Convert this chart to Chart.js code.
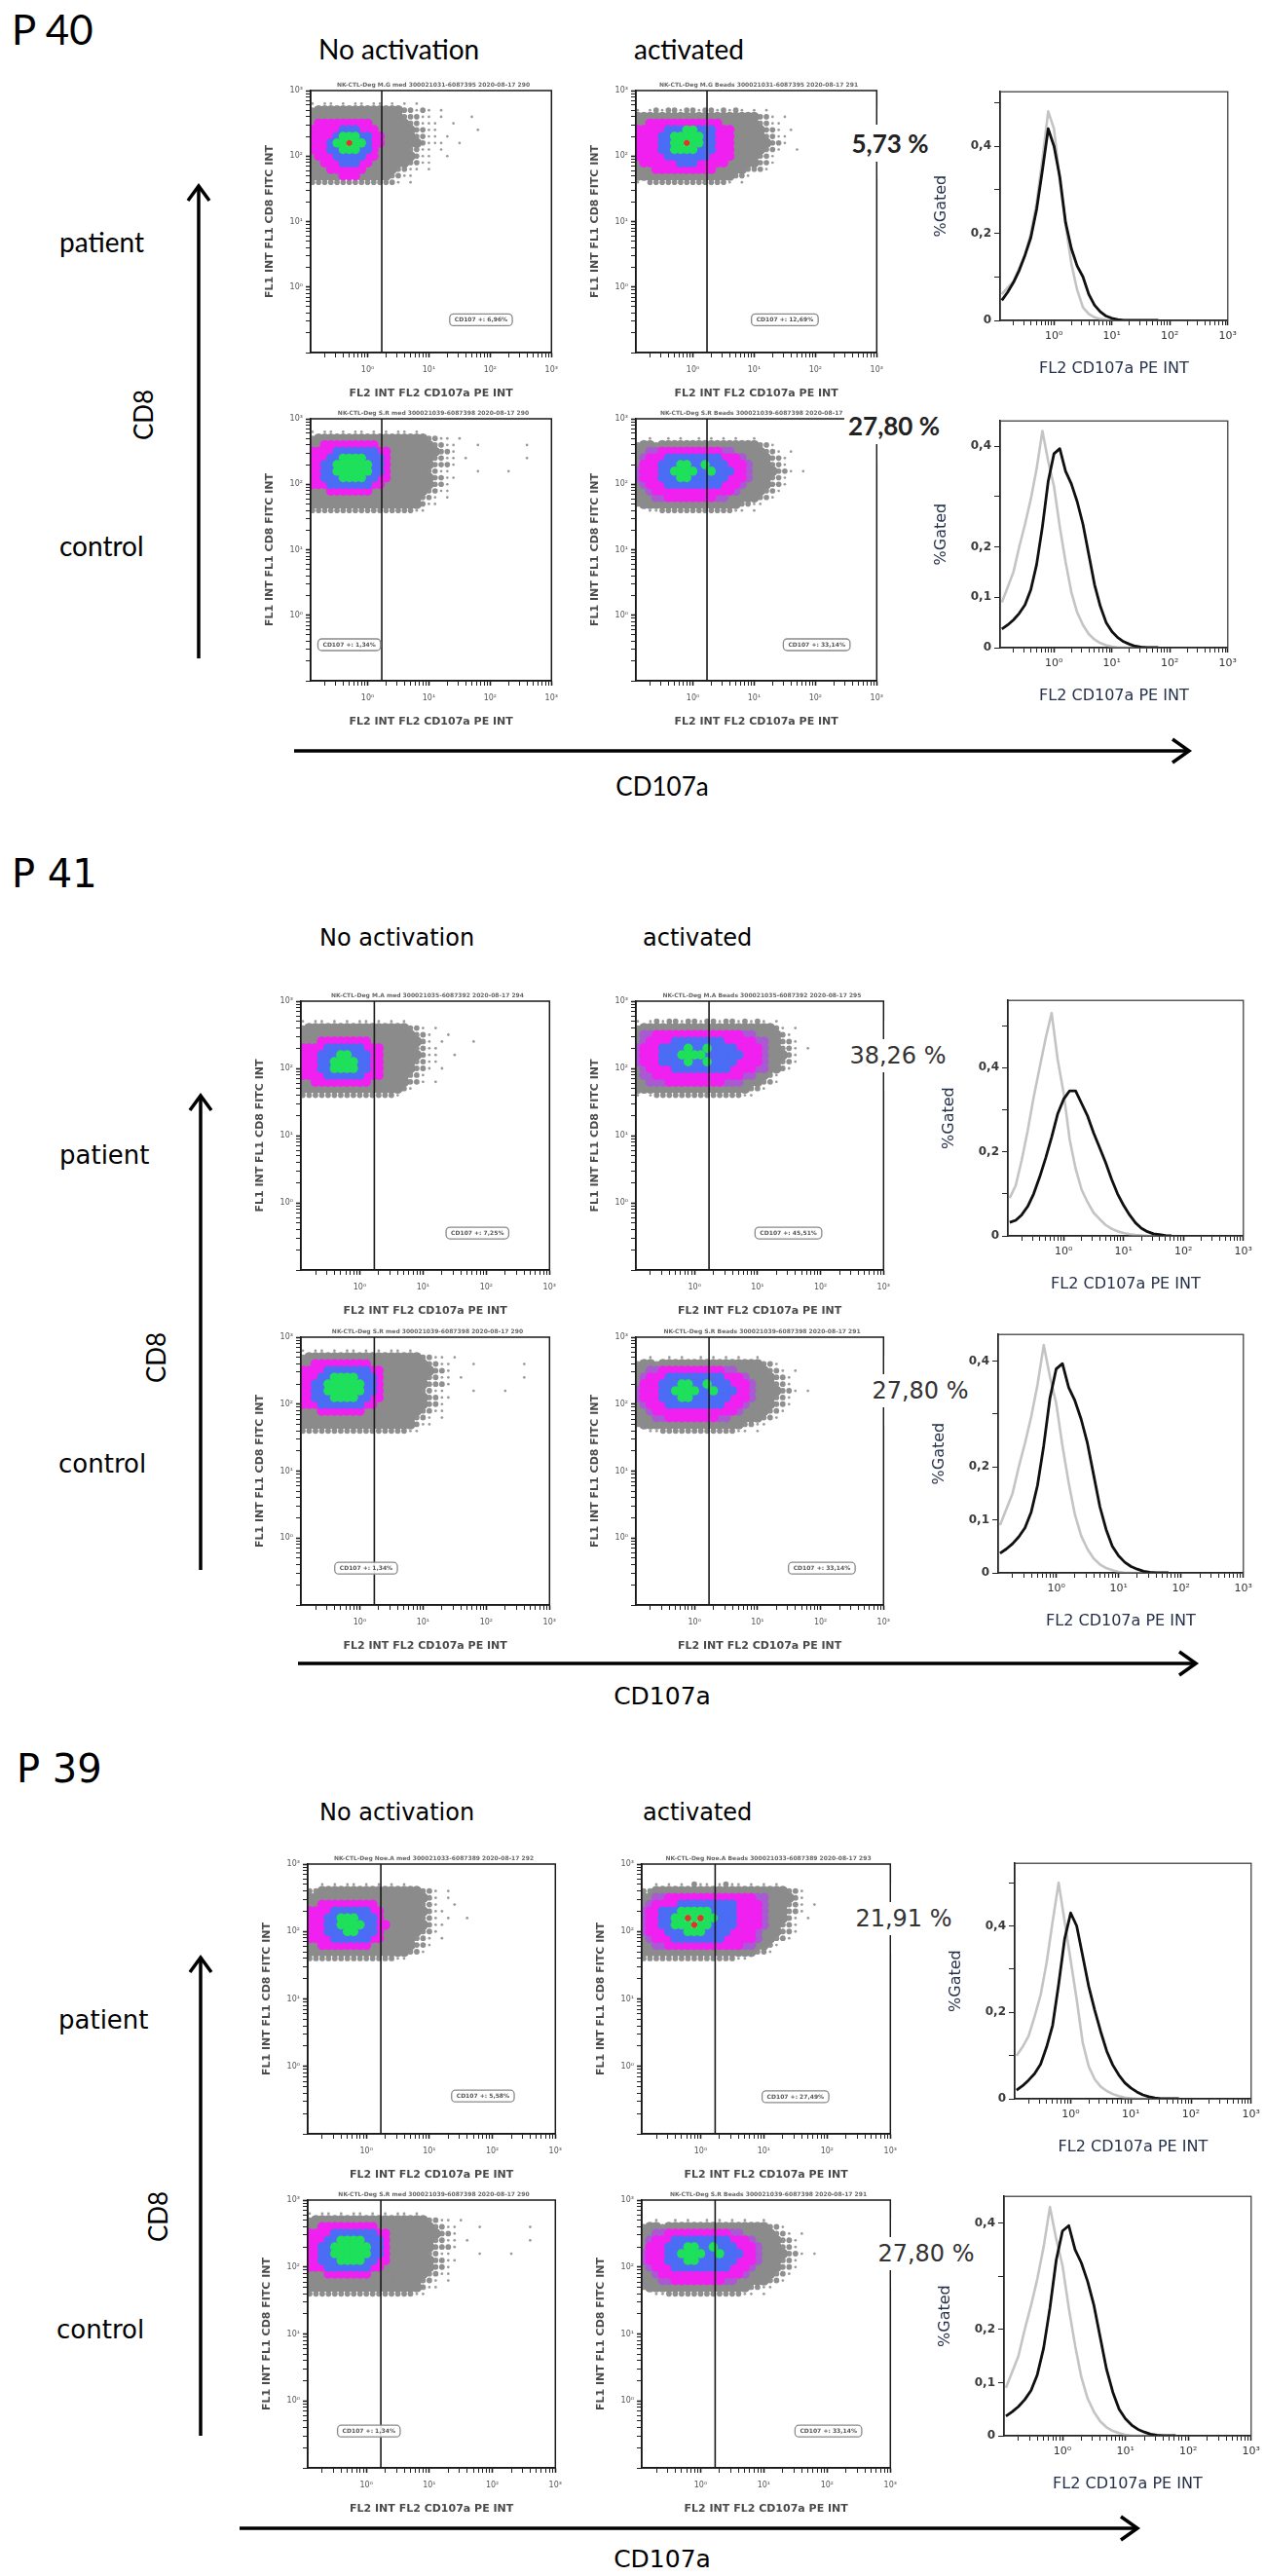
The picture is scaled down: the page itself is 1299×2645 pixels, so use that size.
<!DOCTYPE html>
<html><head><meta charset="utf-8">
<script src="https://cdn.jsdelivr.net/npm/chart.js@4.4.1/dist/chart.umd.min.js"></script>
<style>
html,body{margin:0;padding:0;background:#fff}
body{position:relative;width:1299px;height:2645px;overflow:hidden}
.txt{position:absolute;white-space:nowrap;line-height:1;color:#000}
.pct{position:absolute;white-space:nowrap;line-height:1;background:#fff;transform:translate(-50%,-50%);padding:3px 4px;z-index:6}
.strip{position:absolute;background:#fff;z-index:5}
.tiny{position:absolute;white-space:nowrap;font:bold 6px "DejaVu Sans",sans-serif;color:#666;transform:translateX(-50%);line-height:1}
svg{position:absolute;left:0;top:0;z-index:4}
canvas{position:absolute}
</style></head><body>
<script>
// ---------------- DATA ----------------
// density cells: rows from log10(y)=2.8 down by 0.1, columns from log10(x)=-0.9 up by 0.1
// a=sparse grey, h=medium grey, g=dense grey, p=purple/grey, m=magenta, b=blue, G=green, r=red
const grid_P40_patient_noact = [
"a.aa.a.aa.aa.a.a.a..........",
"hgggggggggggggghhaha.a......",
"ggggggggggggggghhhaa.a....a.",
"gmmmmmmmmmgggggghhaaa..a....",
"mmmmmbbbmmmgggggghhaa......a",
"mmmmbGGGbbmmggggghhaa.a.....",
"mmmbGGrGGbmmgggggghaaa..a...",
"mmmbbGGGbbmggggghhaa.a......",
"gmmmbbbbbmmgggggghaa..a.....",
"ggmmmbbbmmgggggghhaa........",
"gggmmmmmmggggghhaa.a........",
"gggggmmmggggghhaa...........",
"hhhhhhhhhhhhhha.a..........."
];
const grid_P40_patient_act = [
"............................",
"a.ahahhahhahhahaha.a.a......",
"gggggggggggggggggggghha.a...",
"ggmmmmmmmmmmmmgggggghhaa....",
"mmmmmbbbGGbbbmmmggggghha.a..",
"mmmmbbGGGGGbbmmmggggghhaa...",
"mmmmbbGGrGGbbmmmgggggghha...",
"mmmmbbGGGGbbbmmmggggghha..a.",
"mmmmmbbbbbbbmmmmgggghha.....",
"gmmmmmmbbbmmmmmggggghha.....",
"gggmmmmmmmmmmggggghhha......",
"gggggggggggggggghha.........",
"a.hhhhhhhhhhhhha.a.........."
];
const grid_P41_patient_noact = [
"............................",
"a.aa.a.a.aa.a.a.a...........",
"hgggggggggggggggghha.a......",
"gggggggggggggggggghha..a....",
"gggmmmmmmmmggggggggha.a....a",
"mmmmbbbbbbmmmggggghhaa......",
"mmmbbbGGbbbmmgggggghaa..a...",
"mmmbbGGGGbbmmggggghhaa......",
"mmmbbGGGGbbmmggggghha.a.....",
"mmmmbbbbbbmmmgggghha........",
"ggmmmmmmmmmgggggghha.a......",
"ggggggggggggggggha..........",
"hhhhhhhhhhhhhhha............"
];
const grid_P41_patient_act = [
"............................",
"a.ahahhahhahhahhahaha.a.....",
"hgggggggggggggggggggggha.a..",
"gppmmmmmmmmmmmmmmppggggha...",
"gpmmmmbbbbbbbbmmmmmppgghha..",
"pmmmbbbbGbbGbbbbmmmmpgghha.a",
"pmmmbbbGGGGbbbbbbmmmpgggha..",
"pmmmbbbbGbbGbbbbmmmmpgghha..",
"gpmmmmbbbbbbbbbmmmmppggha...",
"gppmmmmmmmmmmmmmmppggha.....",
"ggpppmmmmmmmmmpppggghha.....",
"gggggggggggggggggghha.......",
"a.ahhhhhhhhhhhhhhaa........."
];
const grid_P39_patient_noact = [
"............................",
"..a.a.aa.a.a.a.a............",
"hhgggggggggggggggghha.a.....",
"gggggggggggggggggggha.a.....",
"ggmmmmmmmmmggggggghha..a....",
"mmmmbbbbbbmmggggggghaa......",
"mmmbbGGGbbbmgggggghha.a..a..",
"mmmbbGGGGbbmmgggggghaa......",
"mmmbbbGGbbbmgggggghha.......",
"mmmmbbbbbbmmggggghha.a......",
"ggmmmmmmmmggggggghha........",
"gggggggggggggggghha.........",
"hhhhhhhhhhhhhhaa............"
];
const grid_P39_patient_act = [
"............................",
"..a.a.a.haa.ahaa.a.a.a......",
"hhggggggggggggggggggggghha..",
"ggppmmmmmmmmmmmmmmppggggha..",
"gpmmmmbbbbbbbbbmmmmpggghha.a",
"pmmbbbGGGGGbbbbmmmmpggghha..",
"pmmbbGGrGrGGbbbmmmmpgggha.a.",
"pmmbbGGGrGGbbbbmmmmpgghha...",
"pmmmbbbGGGbbbbmmmmpggghha...",
"gpmmmbbbbbbbbmmmmmpgghha....",
"ggppmmmmmmmmmmmmppggha......",
"gggggggggggggggggghha.......",
"hhhhhhhhhhhhhhhaa..........."
];
const grid_control_noact = [
"a.aa.a.aa.a.a.aa.a..........",
"hgggggggggggggggggghhaa.a...",
"ggmmmmmmmmmggggggggghhaa...a.......a",
"mmmmbbbbbbbmmgggggggghha....",
"mmmbbGGGGbbbmggggggghhaa.a.........a",
"mmbbGGGGGGbbmggggggghhha....",
"mmbbGGGGGGbbmgggggghhaa....a....a",
"mmbbbGGGGbbmmggggggghhaa....",
"mmmbbbbbbbmmgggggggghha.....",
"gggmmmmmmmggggggggghhaa.....",
"gggggggggggggggggghha.a.....",
"gggggggggggggggggghaa.......",
"hhhhhhhhhhhhhhhhhaa........."
];
const grid_control_act = [
"............................",
"..a..a.a..a.a.a.a..a........",
"hgghgggggggggggggggghha.....",
"ggppmmmmmmmmmmppggggghha.a..",
"gpmmmbbbbbbbbbmmmpgggghha...",
"gmmmbbbGGbbGbbbmmmpggghha...",
"pmmmbbGGGGbbGbbbmmpgggghha.a",
"pmmmbbbGGbbbbbbmmmpggghha...",
"gpmmmbbbbbbbbbmmmpgggghha...",
"ggpmmmmmmmmmmmmmpgggghha....",
"gggppmmmmmmmmppggggghha.....",
"hgggggggggggggggghhaa.......",
"..aahhhhhhhhhhhhaa.a........"
];
const gridLogX0 = -0.9, gridLogY0 = 2.8, gridStep = 0.1;
const gateValue = 1.7;

const cdText_P40 = ["CD107 +: 6,96%", "CD107 +: 12,69%"];
const cdText_P41 = ["CD107 +: 7,25%", "CD107 +: 45,51%"];
const cdText_P39 = ["CD107 +: 5,58%", "CD107 +: 27,49%"];
const cdText_control = ["CD107 +: 1,34%", "CD107 +: 33,14%"];

const sampleTitles_P40 = ["NK-CTL-Deg M.G med 300021031-6087395 2020-08-17 290", "NK-CTL-Deg M.G Beads 300021031-6087395 2020-08-17 291"];
const sampleTitles_P41 = ["NK-CTL-Deg M.A med 300021035-6087392 2020-08-17 294", "NK-CTL-Deg M.A Beads 300021035-6087392 2020-08-17 295"];
const sampleTitles_P39 = ["NK-CTL-Deg Noe.A med 300021033-6087389 2020-08-17 292", "NK-CTL-Deg Noe.A Beads 300021033-6087389 2020-08-17 293"];
const sampleTitles_control = ["NK-CTL-Deg S.R med 300021039-6087398 2020-08-17 290", "NK-CTL-Deg S.R Beads 300021039-6087398 2020-08-17 291"];

// histograms: log10(FL2) positions and %Gated values
const histLogX = [-0.9,-0.8,-0.7,-0.6,-0.5,-0.4,-0.3,-0.2,-0.1,0,0.1,0.2,0.3,0.4,0.5,0.6,0.7,0.8,0.9,1.0,1.1,1.2,1.3,1.4,1.5,1.6,1.7,1.8];
const hist_P40_grey  = [0.06,0.075,0.09,0.12,0.15,0.20,0.27,0.37,0.48,0.44,0.32,0.22,0.13,0.07,0.03,0.015,0.007,0.003,0.001,0,0,0,0,0,0,0,0,0];
const hist_P40_black = [0.046,0.065,0.087,0.115,0.15,0.19,0.255,0.345,0.44,0.40,0.33,0.225,0.165,0.125,0.10,0.06,0.035,0.02,0.01,0.005,0.002,0,0,0,0,0,0,0];
const hist_P41_grey  = [0.09,0.12,0.18,0.25,0.33,0.40,0.47,0.53,0.42,0.34,0.23,0.16,0.11,0.08,0.055,0.04,0.026,0.017,0.011,0.007,0.004,0.002,0.001,0,0,0,0,0];
const hist_P41_black = [0.032,0.037,0.05,0.07,0.10,0.14,0.185,0.235,0.29,0.325,0.345,0.345,0.315,0.285,0.245,0.21,0.175,0.135,0.10,0.073,0.05,0.031,0.018,0.01,0.005,0.003,0.001,0];
const hist_P39_grey  = [0.10,0.12,0.145,0.19,0.24,0.315,0.41,0.50,0.41,0.32,0.23,0.13,0.075,0.045,0.028,0.018,0.011,0.006,0.003,0.001,0,0,0,0,0,0,0,0];
const hist_P39_black = [0.02,0.03,0.043,0.058,0.08,0.12,0.17,0.265,0.37,0.43,0.40,0.33,0.26,0.205,0.155,0.11,0.078,0.055,0.037,0.025,0.016,0.009,0.005,0.002,0,0,0,0];
const hist_control_grey  = [0.09,0.12,0.15,0.20,0.245,0.295,0.355,0.43,0.37,0.32,0.24,0.17,0.11,0.07,0.045,0.027,0.016,0.009,0.005,0.002,0,0,0,0,0,0,0,0];
const hist_control_black = [0.037,0.045,0.055,0.068,0.085,0.115,0.165,0.24,0.33,0.385,0.395,0.35,0.325,0.29,0.245,0.185,0.125,0.082,0.05,0.032,0.02,0.012,0.007,0.003,0.001,0,0,0];
const histTickValues = [0,0.1,0.2,0.3,0.4,0.5];
const histLabelsPatient = [0,0.2,0.4];
const histLabelsControl = [0,0.1,0.2,0.4];
const histYMax = {P40:[0.525,0.45], P41:[0.56,0.45], P39:[0.545,0.45]};

const pct_P40 = ["5,73 %", "27,80 %"];
const pct_P41 = ["38,26 %", "27,80 %"];
const pct_P39 = ["21,91 %", "27,80 %"];

// ---------------- STYLE / LAYOUT ----------------
const CELL_COLORS = {a:'#9a9a9a', h:'#8f8f8f', g:'#8b8b8b', p:'#a95ad2', m:'#f020f0', b:'#4b6cf4', G:'#1ee05a', r:'#e0352b'};
const CELL_SIZE = {a:0.2, h:0.42, g:0.78, p:0.74, m:0.74, b:0.72, G:0.7, r:0.45};
const CELL_ORDER = ['r','G','b','m','p','g','h','a'];
const SC_WY = 48, SC_HX = 49, SC_PT = 8, SC_PR = 10;
const H_WY = 70, H_HX = 59, H_PT = 8, H_PR = 12;

const PANELS = [
 { key:'P40', name:'P 40', fam:'Lato', label:[12,30,42], heads:[50,28,327,651], patient:[61,248,28], control:[61,560,28],
   cd8:[147,426,26], cd107:[680,807,26], vArrow:[204,190,676], hArrow:[771,302,1222],
   sc:{A:[319,93,252,269],B:[653,93,252,269],C:[319,430,252,269],D:[653,430,252,269]},
   hi:{P:[1027,92,236,237],C:[1027,430,236,235]},
   pctPos:[[914,147],[918,437]], pctFont:'bold 26px Lato', pctColor:'#222',
   boxPos:{A:[1.85,-0.5],B:[1.5,-0.5],C:[-0.3,-0.45],D:[2.02,-0.45]},
   grids:[grid_P40_patient_noact, grid_P40_patient_act], cd:cdText_P40, titles:sampleTitles_P40,
   hist:[hist_P40_grey, hist_P40_black], pct:pct_P40 },
 { key:'P41', name:'P 41', fam:'DejaVu Sans', label:[12,897,40], heads:[963,24,328,660], patient:[61,1186,26], control:[60,1503,26],
   cd8:[160,1394,26], cd107:[680,1741,25], vArrow:[206,1124,1612], hArrow:[1708,306,1229],
   sc:{A:[309,1028,260,276],B:[653,1028,259,276],C:[309,1373,260,275],D:[653,1373,259,275]},
   hi:{P:[1035,1025,244,244],C:[1025,1368,254,247]},
   pctPos:[[922,1084],[945,1428]], pctFont:'24px "DejaVu Sans"', pctColor:'#333',
   boxPos:{A:[1.86,-0.45],B:[1.49,-0.45],C:[0.1,-0.45],D:[2.02,-0.45]},
   grids:[grid_P41_patient_noact, grid_P41_patient_act], cd:cdText_P41, titles:sampleTitles_P41,
   hist:[hist_P41_grey, hist_P41_black], pct:pct_P41 },
 { key:'P39', name:'P 39', fam:'DejaVu Sans', label:[17,1816,40], heads:[1861,24,328,660], patient:[60,2074,26], control:[58,2392,26],
   cd8:[162,2276,26], cd107:[680,2627,25], vArrow:[206,2009,2501], hArrow:[2596,246,1169],
   sc:{A:[316,1914,259,277],B:[659,1914,260,277],C:[316,2259,259,275],D:[659,2259,260,275]},
   hi:{P:[1042,1911,245,244],C:[1031,2253,256,248]},
   pctPos:[[928,1970],[951,2314]], pctFont:'24px "DejaVu Sans"', pctColor:'#333',
   boxPos:{A:[1.85,-0.44],B:[1.5,-0.45],C:[0.04,-0.45],D:[2.02,-0.45]},
   grids:[grid_P39_patient_noact, grid_P39_patient_act], cd:cdText_P39, titles:sampleTitles_P39,
   hist:[hist_P39_grey, hist_P39_black], pct:pct_P39 }
];

// ---------------- HELPERS ----------------
const SUP = {'-':'\u207b','0':'\u2070','1':'\u00b9','2':'\u00b2','3':'\u00b3'};
function decadeLabel(v){
  const l = Math.log10(v), r = Math.round(l);
  if (Math.abs(l - r) > 1e-6 || r < 0) return '';
  return '10' + String(r).split('').map(c => SUP[c]).join('');
}
function logTickValues(min, max){
  const out = [];
  for (let e = -2; e <= 3; e++) for (let m = 1; m <= 9; m++) {
    const v = m * Math.pow(10, e);
    if (v >= min * 0.999 && v <= max * 1.001) out.push(v);
  }
  return out;
}
const fmtComma = v => v === 0 ? '0' : String(v).replace('.', ',');

function makeCanvas(left, top, w, h){
  const c = document.createElement('canvas');
  c.width = w; c.height = h;
  c.style.left = left + 'px'; c.style.top = top + 'px';
  c.style.width = w + 'px'; c.style.height = h + 'px';
  document.body.appendChild(c);
  return c;
}
function addText(txt, x, y, font, mode, color){
  const d = document.createElement('div');
  d.className = 'txt'; d.textContent = txt; d.style.font = font;
  d.style.left = x + 'px'; d.style.top = y + 'px';
  if (color) d.style.color = color;
  d.style.transform = mode === 'center' ? 'translate(-50%,-50%)' : mode === 'rot' ? 'translate(-50%,-50%) rotate(-90deg)' : 'translateY(-50%)';
  document.body.appendChild(d);
}
function addPct(txt, x, y, font, color, edgeX){
  const s = document.createElement('div');
  s.className = 'strip';
  s.style.left = (edgeX - 4) + 'px'; s.style.top = (y - 36) + 'px';
  s.style.width = '8px'; s.style.height = '72px';
  document.body.appendChild(s);
  const d = document.createElement('div');
  d.className = 'pct'; d.textContent = txt; d.style.font = font; d.style.color = color;
  d.style.left = x + 'px'; d.style.top = y + 'px';
  document.body.appendChild(d);
}
function addTiny(txt, x, y){
  const d = document.createElement('div');
  d.className = 'tiny'; d.textContent = txt;
  d.style.left = x + 'px'; d.style.top = y + 'px';
  document.body.appendChild(d);
}

const framePlugin = { id:'frame', afterDraw(chart, args, o){
  const {left, top, right, bottom} = chart.chartArea, ctx = chart.ctx;
  ctx.save(); ctx.strokeStyle = o.color || '#222'; ctx.lineWidth = o.width || 1.5;
  ctx.strokeRect(left, top, right - left, bottom - top); ctx.restore();
}};
const cdBoxPlugin = { id:'cdBox', afterDatasetsDraw(chart, args, o){
  if (!o || !o.text) return;
  const ctx = chart.ctx;
  const x = chart.scales.x.getPixelForValue(Math.pow(10, o.lx));
  const y = chart.scales.y.getPixelForValue(Math.pow(10, o.ly));
  ctx.save();
  ctx.font = 'bold 6px "DejaVu Sans"';
  const w = ctx.measureText(o.text).width + 10, h = 12;
  ctx.beginPath();
  if (ctx.roundRect) ctx.roundRect(x - w/2, y - h/2, w, h, 4); else ctx.rect(x - w/2, y - h/2, w, h);
  ctx.fillStyle = 'rgba(255,255,255,0.9)'; ctx.fill();
  ctx.strokeStyle = '#8a8a8a'; ctx.lineWidth = 1.3; ctx.stroke();
  ctx.fillStyle = '#555'; ctx.textAlign = 'center'; ctx.textBaseline = 'middle';
  ctx.fillText(o.text, x, y + 0.5);
  ctx.restore();
}};

function cellPx(chart){
  const sx = chart.scales.x, sy = chart.scales.y;
  if (!sx || !sy) return 6.5;
  const w = Math.abs(sx.getPixelForValue(Math.pow(10, gridStep)) - sx.getPixelForValue(1));
  const h = Math.abs(sy.getPixelForValue(Math.pow(10, gridStep)) - sy.getPixelForValue(1));
  return Math.max(w, h);
}
function gridDatasets(rows){
  const sets = {};
  rows.forEach((row, r) => {
    for (let c = 0; c < row.length; c++) {
      const ch = row[c];
      if (ch === '.') continue;
      (sets[ch] = sets[ch] || []).push({x: Math.pow(10, gridLogX0 + c * gridStep), y: Math.pow(10, gridLogY0 - r * gridStep)});
    }
  });
  return CELL_ORDER.filter(k => sets[k]).map(k => {
    const rad = ctx => cellPx(ctx.chart) * CELL_SIZE[k];
    return { data: sets[k], backgroundColor: CELL_COLORS[k], borderWidth: 0, pointStyle: 'circle', pointRadius: rad, pointHoverRadius: rad };
  });
}

function logAxis(min, max, title, o){
  return {
    type:'logarithmic', min, max,
    afterBuildTicks: s => { s.ticks = logTickValues(min, max).map(v => ({value: v, major: decadeLabel(v) !== ''})); },
    afterFit: s => { if (s.isHorizontal()) s.height = o.size; else s.width = o.size; },
    ticks:{ autoSkip:false, maxRotation:0, minRotation:0, padding:o.pad, font:{family:'DejaVu Sans', size:o.tick, weight:o.tickWeight || 'normal'}, color:o.tickColor, callback: v => decadeLabel(v) },
    grid:{ display:true, drawOnChartArea:false, drawTicks:true, tickLength:o.tickLen || 5, tickColor:'#222', tickWidth: c => (c.tick && c.tick.major) ? 1.6 : 1 },
    border:{ display:true, color:'#111', width:1.5 },
    title:{ display:true, text:title, font:{family:'DejaVu Sans', size:o.titleSize, weight:o.titleWeight || 'bold'}, color:o.titleColor, padding:0 }
  };
}

function scatterChart(rect, grid, cdText, boxPos, title){
  const [L, T, W, H] = rect;
  const cv = makeCanvas(L - SC_WY, T - SC_PT, SC_WY + W + SC_PR, SC_PT + H + SC_HX);
  addTiny(title, L + W / 2, T - 9);
  const gate = {data:[{x:gateValue, y:0.1}, {x:gateValue, y:1000}], showLine:true, borderColor:'#1a1a1a', borderWidth:1.6, pointRadius:0};
  new Chart(cv, {
    type:'scatter',
    data:{ datasets:[gate, ...gridDatasets(grid)] },
    options:{
      responsive:false, animation:false, events:[],
      layout:{ padding:{ top:SC_PT, right:SC_PR, left:0, bottom:0 } },
      plugins:{ legend:{display:false}, tooltip:{enabled:false}, frame:{color:'#1a1a1a', width:1.5}, cdBox:{text:cdText, lx:boxPos[0], ly:boxPos[1]} },
      scales:{
        x: logAxis(Math.pow(10, -0.93), 1000, 'FL2 INT FL2 CD107a PE INT', {size:SC_HX, pad:8, tick:8, tickColor:'#555', titleSize:11, titleColor:'#4a4a4a'}),
        y: logAxis(0.1, 1000, 'FL1 INT FL1 CD8 FITC INT', {size:SC_WY, pad:3, tick:8, tickColor:'#555', titleSize:11, titleColor:'#4a4a4a'})
      }
    },
    plugins:[framePlugin, cdBoxPlugin]
  });
}

function histChart(rect, grey, black, ymax, labelVals){
  const [L, T, W, H] = rect;
  const cv = makeCanvas(L - H_WY, T - H_PT, H_WY + W + H_PR, H_PT + H + H_HX);
  const toPts = arr => histLogX.map((lx, i) => ({x: Math.pow(10, lx), y: arr[i]}));
  new Chart(cv, {
    type:'scatter',
    data:{ datasets:[
      {data: toPts(black), showLine:true, borderColor:'#101010', borderWidth:2.8, pointRadius:0, borderJoinStyle:'round'},
      {data: toPts(grey), showLine:true, borderColor:'#c4c4c4', borderWidth:2.6, pointRadius:0, borderJoinStyle:'round'}
    ]},
    options:{
      responsive:false, animation:false, events:[],
      layout:{ padding:{ top:H_PT, right:H_PR, left:0, bottom:0 } },
      plugins:{ legend:{display:false}, tooltip:{enabled:false}, frame:{color:'#333', width:1.2} },
      scales:{
        x: logAxis(Math.pow(10, -0.93), 1000, 'FL2 CD107a PE INT', {size:H_HX, pad:5, tick:11, tickColor:'#333', titleSize:16, titleWeight:'normal', titleColor:'#25304a'}),
        y: {
          type:'linear', min:0, max:ymax,
          afterBuildTicks: s => { s.ticks = histTickValues.filter(v => v <= ymax + 1e-9).map(v => ({value: v})); },
          afterFit: s => { s.width = H_WY; },
          ticks:{ autoSkip:false, padding:3, font:{family:'DejaVu Sans', size:12, weight:'bold'}, color:'#3a3a3a',
                  callback: v => labelVals.includes(v) ? fmtComma(v) : '' },
          grid:{ display:true, drawOnChartArea:false, drawTicks:true, tickLength:6, tickColor:'#222' },
          border:{ display:true, color:'#111', width:1.5 },
          title:{ display:true, text:'%Gated', font:{family:'DejaVu Sans', size:16}, color:'#25304a', padding:0 }
        }
      }
    },
    plugins:[framePlugin]
  });
}

// ---------------- BUILD ----------------
const svgNS = 'http://www.w3.org/2000/svg';
const svg = document.createElementNS(svgNS, 'svg');
svg.setAttribute('width', 1299); svg.setAttribute('height', 2645);
document.body.appendChild(svg);
function svgPath(d){
  const p = document.createElementNS(svgNS, 'path');
  p.setAttribute('d', d); p.setAttribute('stroke', '#000'); p.setAttribute('stroke-width', '3.5');
  p.setAttribute('fill', 'none'); p.setAttribute('stroke-linejoin', 'miter');
  svg.appendChild(p);
}

PANELS.forEach(P => {
  const f = P.fam === 'Lato' ? 'Lato' : '"DejaVu Sans"';
  addText(P.name, P.label[0], P.label[1], P.label[2] + 'px ' + f);
  addText('No activation', P.heads[2], P.heads[0], P.heads[1] + 'px ' + f);
  addText('activated', P.heads[3], P.heads[0], P.heads[1] + 'px ' + f);
  addText('patient', P.patient[0], P.patient[1], P.patient[2] + 'px ' + f);
  addText('control', P.control[0], P.control[1], P.control[2] + 'px ' + f);
  addText('CD8', P.cd8[0], P.cd8[1], P.cd8[2] + 'px Lato', 'rot');
  addText('CD107a', P.cd107[0], P.cd107[1], P.cd107[2] + 'px ' + f, 'center');

  const [vx, vy1, vy2] = P.vArrow;
  svgPath(`M${vx} ${vy2} L${vx} ${vy1 + 1}`);
  svgPath(`M${vx - 11} ${vy1 + 16} L${vx} ${vy1 + 1} L${vx + 11} ${vy1 + 16}`);
  const [hy, hx1, hx2] = P.hArrow;
  svgPath(`M${hx1} ${hy} L${hx2 - 1} ${hy}`);
  svgPath(`M${hx2 - 18} ${hy - 12} L${hx2 - 1} ${hy} L${hx2 - 18} ${hy + 12}`);

  scatterChart(P.sc.A, P.grids[0], P.cd[0], P.boxPos.A, P.titles[0]);
  scatterChart(P.sc.B, P.grids[1], P.cd[1], P.boxPos.B, P.titles[1]);
  scatterChart(P.sc.C, grid_control_noact, cdText_control[0], P.boxPos.C, sampleTitles_control[0]);
  scatterChart(P.sc.D, grid_control_act, cdText_control[1], P.boxPos.D, sampleTitles_control[1]);

  histChart(P.hi.P, P.hist[0], P.hist[1], histYMax[P.key][0], histLabelsPatient);
  histChart(P.hi.C, hist_control_grey, hist_control_black, histYMax[P.key][1], histLabelsControl);

  addPct(P.pct[0], P.pctPos[0][0], P.pctPos[0][1], P.pctFont, P.pctColor, P.sc.B[0] + P.sc.B[2]);
  addPct(P.pct[1], P.pctPos[1][0], P.pctPos[1][1], P.pctFont, P.pctColor, P.sc.D[0] + P.sc.D[2]);
});
</script>
</body></html>
